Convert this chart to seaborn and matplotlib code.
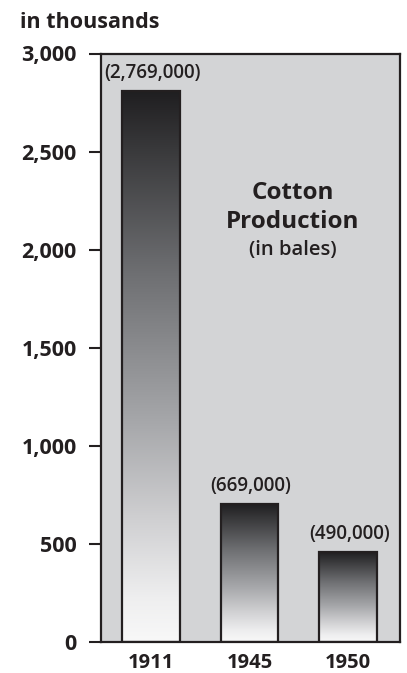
import matplotlib
matplotlib.use("Agg")
import matplotlib.pyplot as plt
from matplotlib.colors import LinearSegmentedColormap
import pandas as pd
import seaborn as sns
import numpy as np

# data
years = ["1911", "1945", "1950"]
bar_heights = [2810, 703, 457]          # drawn bar heights, in thousands
bar_labels = ["(2,769,000)", "(669,000)", "(490,000)"]
y_ticks = [0, 500, 1000, 1500, 2000, 2500, 3000]
y_tick_labels = ["0", "500", "1,000", "1,500", "2,000", "2,500", "3,000"]

INK = "#231f20"


def main():
    df = pd.DataFrame({"Year": years, "Bales": bar_heights})

    sns.set_style("white")
    plt.rcParams['font.family'] = ['Open Sans', 'DejaVu Sans']

    fig = plt.figure(figsize=(4.07, 6.73), dpi=100)
    ax = fig.add_axes([101 / 407, 31.3 / 673, 299 / 407, 588.2 / 673])
    ax.set_facecolor("#d3d4d6")

    sns.barplot(x="Year", y="Bales", data=df, ax=ax, width=0.585,
                color="white", edgecolor=INK, linewidth=1.6, zorder=3)

    # gradient: bottom (0) near white, top (1) near black
    cmap = LinearSegmentedColormap.from_list("bar", [
        (0.00, "#f8f8f8"),
        (0.08, "#eeeeef"),
        (0.22, "#d0d0d2"),
        (0.40, "#a6a7aa"),
        (0.67, "#6e6f72"),
        (0.90, "#38383a"),
        (1.00, "#201f21"),
    ])
    grad = np.linspace(0, 1, 256).reshape(-1, 1)
    for bar in ax.patches:
        x0 = bar.get_x()
        w = bar.get_width()
        h = bar.get_height()
        im = ax.imshow(grad, cmap=cmap, vmin=0, vmax=1, aspect="auto",
                       origin="lower", extent=[x0, x0 + w, 0, h], zorder=2.5)
        im.set_clip_path(bar)
        bar.set_facecolor("none")

    ax.set_xlim(-0.505, 2.525)
    ax.set_ylim(0, 3000)

    # value labels above the bars
    for bar, lab in zip(ax.patches, bar_labels):
        ax.annotate(lab, (bar.get_x() + bar.get_width() / 2, bar.get_height()),
                    ha="center", va="baseline", xytext=(1, 9.5),
                    textcoords="offset points", fontsize=13.5,
                    fontweight="semibold", color=INK, zorder=5)

    ax.set_yticks(y_ticks)
    ax.set_yticklabels(y_tick_labels, fontsize=15.5, fontweight="bold", color=INK)
    ax.tick_params(axis="y", direction="out", length=9, width=1.5, color=INK,
                   pad=8.5, left=True)
    ax.tick_params(axis="x", length=0, pad=8)
    for t in ax.get_xticklabels():
        t.set_fontsize(14.5)
        t.set_fontweight("bold")
        t.set_color(INK)

    for s in ax.spines.values():
        s.set_color(INK)
        s.set_linewidth(1.6)
        s.set_visible(True)

    ax.set_xlabel("")
    ax.set_ylabel("")

    ax.text(1.436, 2258, "Cotton", ha="center", va="baseline",
            fontsize=17.5, fontweight="bold", color=INK)
    ax.text(1.436, 2110, "Production", ha="center", va="baseline",
            fontsize=17.5, fontweight="bold", color=INK)
    ax.text(1.436, 1972, "(in bales)", ha="center", va="baseline",
            fontsize=14.5, fontweight="semibold", color=INK)

    fig.text(20 / 407, 1 - 28.5 / 673, "in thousands", ha="left", va="baseline",
             fontsize=15.5, fontweight="bold", color=INK)

    plt.savefig("out.png", dpi=100)


if __name__ == '__main__':
    main()
